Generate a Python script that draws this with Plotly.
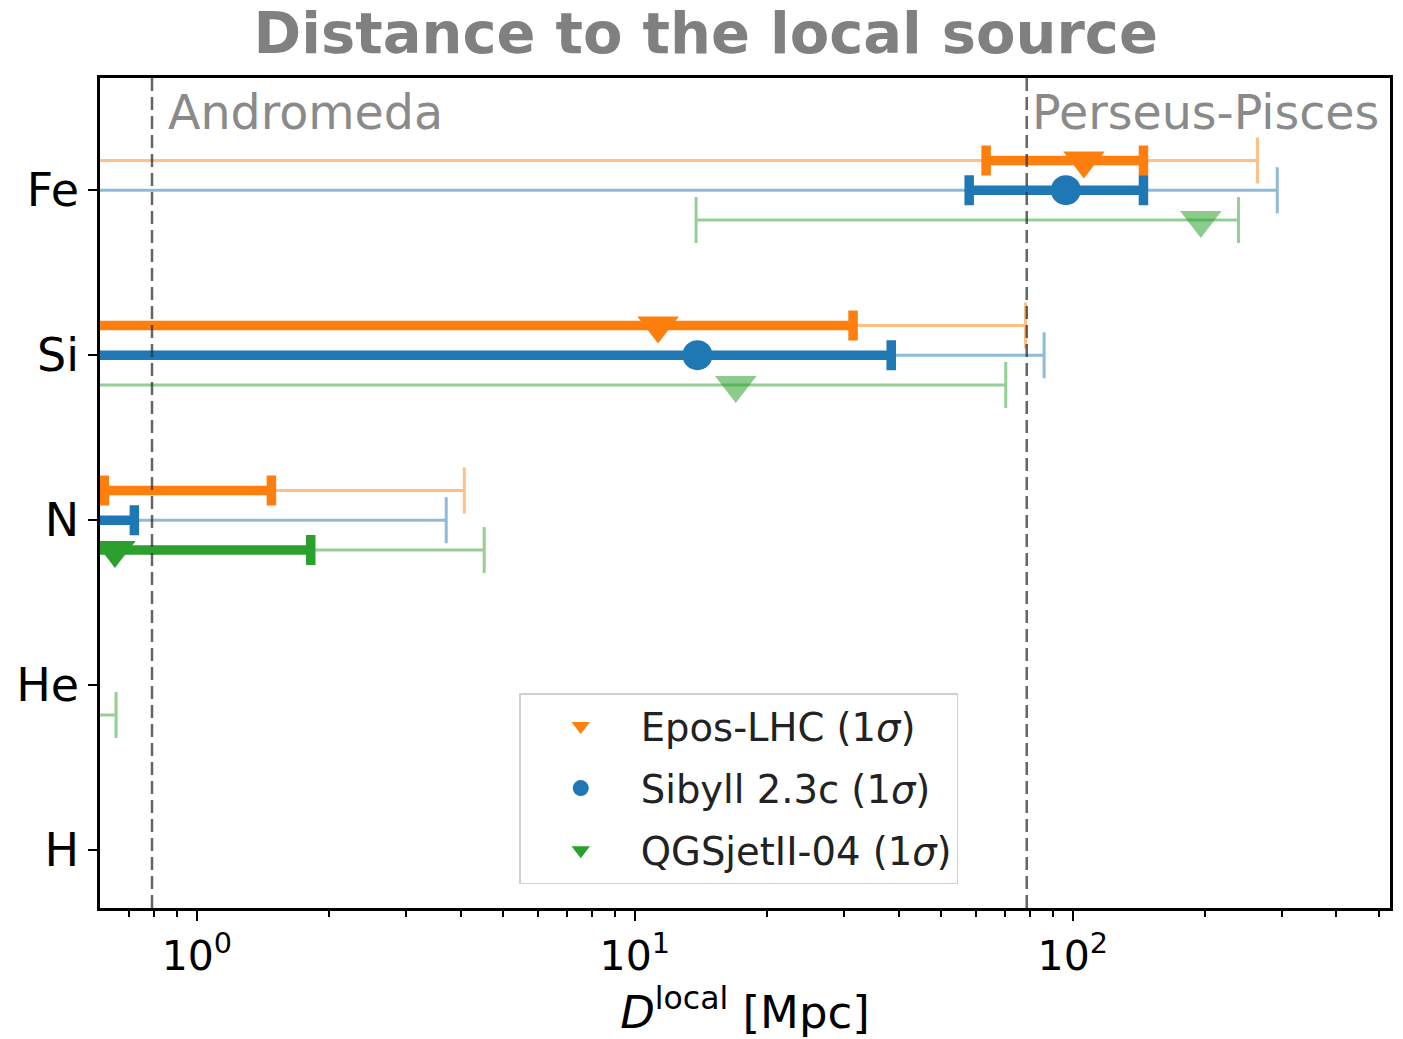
import numpy as np
import plotly.graph_objects as go

# ---------------- data ----------------
elements = ["H", "He", "N", "Si", "Fe"]
nan = float("nan")

models = ["Epos-LHC (1<i>σ</i>)", "Sibyll 2.3c (1<i>σ</i>)", "QGSjetII-04 (1<i>σ</i>)"]

# best-fit distance [Mpc]
epos_best = [nan, nan, 0.45, 11.3, 106.0]
sib_best = [nan, nan, 0.42, 13.9, 96.4]
qgs_best = [nan, 0.40, 0.65, 17.0, 196.0]

# 1 sigma range
epos_1s_lo = [nan, nan, 0.615, 0.30, 63.4]
epos_1s_hi = [nan, nan, 1.48, 31.5, 145.0]
sib_1s_lo = [nan, nan, 0.30, 0.30, 58.0]
sib_1s_hi = [nan, nan, 0.72, 38.5, 145.0]
qgs_1s_lo = [nan, nan, 0.30, nan, nan]
qgs_1s_hi = [nan, nan, 1.82, nan, nan]

# wider range (thin bars)
epos_2s_lo = [nan, nan, 0.30, 0.30, 0.30]
epos_2s_hi = [nan, nan, 4.08, 78.0, 264.0]
sib_2s_lo = [nan, nan, 0.30, 0.30, 0.30]
sib_2s_hi = [nan, nan, 3.71, 86.0, 293.0]
qgs_2s_lo = [nan, 0.30, 0.30, 0.30, 13.8]
qgs_2s_hi = [nan, 0.654, 4.53, 70.3, 239.0]

ref_names = ["Andromeda", "Perseus-Pisces"]
ref_dist = [0.79, 78.5]

x_ticks = [1, 10, 100]
x_ticktext = ["10<sup>0</sup>", "10<sup>1</sup>", "10<sup>2</sup>"]

# ---------------- style ----------------
colors = ["#ff7f0e", "#1f77b4", "#2ca02c"]
symbols = ["triangle-down", "circle", "triangle-down"]
offsets = [0.18, 0.0, -0.18]
label_shift = [14, 3]
FONT = "DejaVu Sans"


def rgba(hexc, a):
    h = hexc.lstrip("#")
    r, g, b = int(h[0:2], 16), int(h[2:4], 16), int(h[4:6], 16)
    return f"rgba({r},{g},{b},{a})"


series = [
    (epos_best, epos_1s_lo, epos_1s_hi, epos_2s_lo, epos_2s_hi),
    (sib_best, sib_1s_lo, sib_1s_hi, sib_2s_lo, sib_2s_hi),
    (qgs_best, qgs_1s_lo, qgs_1s_hi, qgs_2s_lo, qgs_2s_hi),
]

fig = go.Figure()
ypos = np.arange(len(elements), dtype=float)

for k, (best, lo1, hi1, lo2, hi2) in enumerate(series):
    c = colors[k]
    y = ypos + offsets[k]
    lo1, hi1, lo2, hi2, best = map(np.array, (lo1, hi1, lo2, hi2, best))
    # thin bars (anchored at lower end)
    m2 = ~np.isnan(lo2)
    fig.add_trace(go.Scatter(
        x=lo2[m2], y=y[m2], mode="markers",
        marker=dict(size=1, color="rgba(0,0,0,0)"),
        error_x=dict(type="data", symmetric=False, array=(hi2 - lo2)[m2],
                     arrayminus=np.zeros(m2.sum()), color=rgba(c, 0.5),
                     thickness=3, width=23),
        showlegend=False, hoverinfo="skip"))
    # markers
    mb = ~np.isnan(best)
    mcol = [c if not np.isnan(lo1[i]) else rgba(c, 0.55) for i in range(len(best)) if mb[i]]
    fig.add_trace(go.Scatter(
        x=best[mb], y=y[mb], mode="markers", name=models[k],
        marker=dict(symbol=symbols[k], size=30 if symbols[k] == "circle" else 36,
                    color=mcol, line=dict(width=0)),
        legendgroup=models[k], showlegend=False))
    # thick bars
    m1 = ~np.isnan(lo1)
    if m1.any():
        fig.add_trace(go.Scatter(
            x=lo1[m1], y=y[m1], mode="markers",
            marker=dict(size=1, color="rgba(0,0,0,0)"),
            error_x=dict(type="data", symmetric=False, array=(hi1 - lo1)[m1],
                         arrayminus=np.zeros(m1.sum()), color=c,
                         thickness=9.5, width=15),
            showlegend=False, hoverinfo="skip"))
    # legend entry
    fig.add_trace(go.Scatter(
        x=[None], y=[None], mode="markers", name=models[k],
        marker=dict(symbol=symbols[k], size=28, color=c),
        legendgroup=models[k], showlegend=True))

shapes = []
annos = []
for name, d, sh in zip(ref_names, ref_dist, label_shift):
    shapes.append(dict(type="line", xref="x", yref="paper", x0=d, x1=d, y0=0, y1=1,
                       line=dict(color="rgba(50,50,50,0.75)", width=2.5, dash="13px,6px"),
                       layer="above"))
    annos.append(dict(x=np.log10(d), y=1, xref="x", yref="paper", text=name,
                      showarrow=False, xanchor="left", yanchor="top", xshift=sh, yshift=-5,
                      font=dict(family=FONT, size=47.5, color="#8a8a8a")))

fig.update_layout(
    width=1403, height=1039,
    margin=dict(l=100, r=10, t=78, b=131),
    paper_bgcolor="white", plot_bgcolor="white",
    font=dict(family=FONT, color="black"),
    title=dict(text="<b>Distance to the local source</b>", x=0.503, xanchor="center",
               y=1 - 33 / 1039, yanchor="middle", yref="container",
               font=dict(family=FONT, size=57.5, color="#808080")),
    shapes=shapes, annotations=annos,
    legend=dict(x=0.325, y=0.259, xanchor="left", yanchor="top",
                bgcolor="white", bordercolor="#d0d0d0", borderwidth=1.5,
                font=dict(family=FONT, size=38.5, color="#222"),
                itemwidth=110, tracegroupgap=9, traceorder="grouped"),
)

fig.update_xaxes(
    type="log", range=[np.log10(0.601), np.log10(530)],
    tickvals=x_ticks, ticktext=x_ticktext, ticks="outside", ticklen=10, tickwidth=2,
    tickcolor="black", tickfont=dict(family=FONT, size=41, color="black"),
    showline=True, linecolor="black", linewidth=2.5, mirror=True, showgrid=False,
    zeroline=False,
    minor=dict(tickvals=[0.6, 0.7, 0.8, 0.9, 2, 3, 4, 5, 6, 7, 8, 9,
                         20, 30, 40, 50, 60, 70, 80, 90, 200, 300, 400, 500],
               ticks="outside", ticklen=6, tickwidth=1.5, tickcolor="black", showgrid=False),
    title=dict(text="<i>D</i><sup>local</sup> [Mpc]", standoff=12,
               font=dict(family=FONT, size=45, color="black")),
)
fig.update_yaxes(
    range=[-0.35, 4.68], tickvals=list(ypos), ticktext=elements,
    ticks="outside", ticklen=9, tickwidth=2, tickcolor="black",
    tickfont=dict(family=FONT, size=46, color="black"),
    showline=True, linecolor="black", linewidth=2.5, mirror=True, showgrid=False,
    zeroline=False,
)

fig.write_html("out.html")
